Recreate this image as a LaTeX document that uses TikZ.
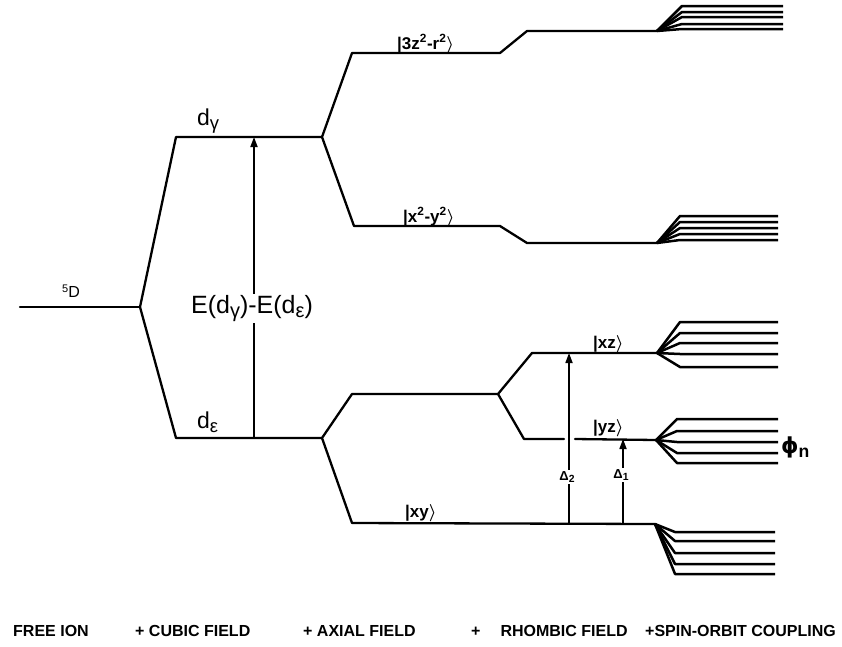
\documentclass[tikz,border=0pt]{standalone}
\usepackage{fontspec}
\setmainfont{Liberation Sans}
\newfontfamily\phifont{DejaVu Sans}
\usepackage{tkz-euclide}
\usetikzlibrary{arrows.meta,calc}
\usepackage{amsmath}
\newcommand{\lowidx}[1]{\raisebox{-0.35ex}{\scalebox{0.8}{#1}}}
\newcommand{\lket}[1]{|#1$\boldsymbol{\rangle}$}
\tikzset{
  lvl/.style={line width=2.3pt,line join=round},
  fan/.style={line width=2.5pt,line join=round},
  gap/.style={line width=1.7pt,arrows={-Stealth[length=10pt,width=7pt,inset=0pt]}},
  lbl/.style={inner sep=0pt,anchor=base west,font=\fontsize{17}{19}\selectfont\bfseries},
  big/.style={inner sep=0pt,anchor=base west,font=\fontsize{23}{26}\selectfont},
  dlbl/.style={fill=white,inner sep=1.5pt,font=\fontsize{13}{15}\selectfont\bfseries},
  field/.style={inner sep=0pt,anchor=base west,font=\fontsize{16}{18}\selectfont\bfseries}
}

\begin{document}
\begin{tikzpicture}[x=1pt,y=-1pt]
\tkzSetUpLine[line width=2.3pt,color=black]
\useasboundingbox (0,0) rectangle (842,646);

% free ion and cubic field
\tkzDefPoints{20/307/F0,140/307/F1,176/137/Cg0,322/137/Cg1,176/438/Ce0,322/438/Ce1}
% axial field
\tkzDefPoints{352/53/Az0,500/53/Az1,354/226/Ab0,500/226/Ab1,352/394/Ap0,498/394/Ap1,352/523/Axy0,655/524/Axy1}
% rhombic field
\tkzDefPoints{527/31/Rz0,657/31/Rz1,527/243/Rb0,657/243/Rb1,532/353/Rxz0,657/353/Rxz1}
\tkzDefPoints{524/439/Ryz0,564/439/Ryz1,575/439/Ryz2,656/440/Ryz3}
% splittings
\tkzDefPoints{254/438/E0,254/137/E1,569/523/DB0,569/353/DB1,623/523/DA0,623/439/DA1}

\tkzDrawSegment[lvl](F0,F1)
\tkzDrawPolySeg[lvl](Cg1,Cg0,F1,Ce0,Ce1)
\tkzDrawPolySeg[lvl](Rz1,Rz0,Az1,Az0,Cg1,Ab0,Ab1,Rb0,Rb1)
\tkzDrawPolySeg[lvl](Rxz1,Rxz0,Ap1,Ap0,Ce1,Axy0,Axy1)
\tkzDrawPolySeg[lvl](Ap1,Ryz0,Ryz1)
\tkzDrawSegment[lvl](Ryz2,Ryz3)

% spin-orbit fans
\foreach \y in {6,12,17,24,29} \draw[fan] (Rz1) -- (682,\y) -- (783,\y);
\foreach \y in {216,222,228,234,240} \draw[fan] (Rb1) -- (680,\y) -- (778,\y);
\foreach \y in {322,333,343,354,367} \draw[fan] (Rxz1) -- (680,\y) -- (778,\y);
\foreach \y in {419,431,442,453,463} \draw[fan] (Ryz3) -- (677,\y) -- (778,\y);
\foreach \y in {532,541,553,564,574} \draw[fan] (Axy1) -- (675,\y) -- (775,\y);

\draw[gap] (E0) -- (E1);
\draw[gap] (DB0) -- (DB1);
\draw[gap] (DA0) -- (DA1);

\node[inner sep=0pt,anchor=base west,font=\fontsize{16}{18}\selectfont] (fion) at (62,297) {\raisebox{5pt}{\fontsize{11}{12}\selectfont 5}D};
\node[big] (dg) at (197,125) {d\lowidx{γ}};
\node[big] (de) at (197,428) {d\lowidx{ε}};
\node[fill=white,inner sep=1pt,anchor=base,font=\fontsize{25}{28}\selectfont] (Edif) at (252,313) {E(d\lowidx{γ})-E(d\lowidx{ε})};
\node[lbl] (k3z) at (397,49) {\lket{3z\textsuperscript{2}-r\textsuperscript{2}}};
\node[lbl] (kx2) at (403,222) {\lket{x\textsuperscript{2}-y\textsuperscript{2}}};
\node[lbl] (kxy) at (405,517) {\lket{xy}};
\node[lbl] (kxz) at (593,348) {\lket{xz}};
\node[lbl] (kyz) at (593,432) {\lket{yz}};
\node[inner sep=0pt,anchor=base west,font=\fontsize{22}{24}\selectfont\bfseries] (phi) at (781,453) {{\phifont ϕ}\lowidx{n}};
\node[dlbl] (d2) at (567,477) {Δ\lowidx{2}};
\node[dlbl] (d1) at (621,475) {Δ\lowidx{1}};

% stages
\node[field] (s1) at (13,636) {FREE ION};
\node[field] (s2) at (135,636) {+ CUBIC FIELD};
\node[field] (s3) at (303,636) {+ AXIAL FIELD};
\node[field] (s4) at (471,636) {+\hspace{20pt}RHOMBIC FIELD};
\node[field] (s5) at (645,636) {+SPIN-ORBIT COUPLING};

\end{tikzpicture}
\end{document}
